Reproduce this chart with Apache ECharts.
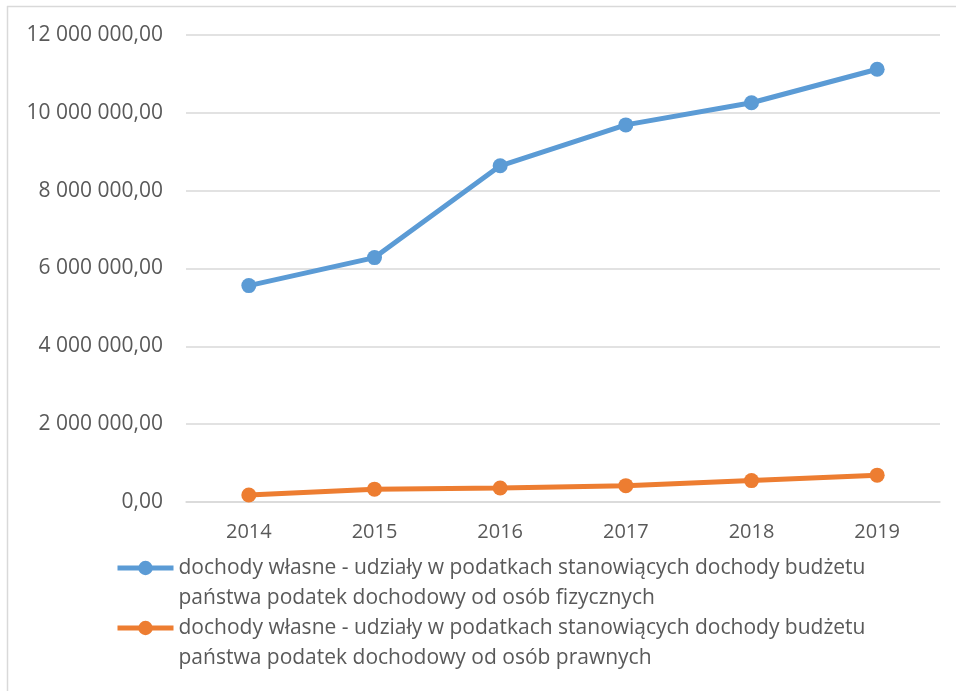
<!DOCTYPE html>
<html>
<head>
<meta charset="utf-8">
<script src="https://cdn.jsdelivr.net/npm/echarts@6/dist/echarts.min.js"></script>
<style>html,body{margin:0;padding:0;background:#fff}#c{width:956px;height:691px}</style>
</head>
<body>
<div id="c"></div>
<script>
const years = ['2014', '2015', '2016', '2017', '2018', '2019'];
const seriesNames = [
  'dochody własne - udziały w podatkach stanowiących dochody budżetu\npaństwa podatek dochodowy od osób fizycznych',
  'dochody własne - udziały w podatkach stanowiących dochody budżetu\npaństwa podatek dochodowy od osób prawnych'
];
const pitValues = [5560000, 6280000, 8640000, 9690000, 10260000, 11120000];
const citValues = [180000, 330000, 360000, 420000, 550000, 690000];
const colors = ['#5B9BD5', '#ED7D31'];

function fmt(v) {
  const s = Math.round(v).toString().replace(/\B(?=(\d{3})+(?!\d))/g, ' ');
  return s + ',00';
}

const chart = echarts.init(document.getElementById('c'), null, {renderer: 'canvas'});
const font = 'Open Sans';
const legendText = {fontFamily: font, fontSize: 21, color: '#595959', lineHeight: 30};
function legendFor(i, top) {
  return {
    data: [seriesNames[i]], orient: 'vertical', left: 115, top: top, padding: 0,
    itemWidth: 56, itemHeight: 18, itemGap: 0, textStyle: legendText,
    formatter: name => ' \n' + name,
    lineStyle: {width: 5, color: colors[i]},
    itemStyle: {color: colors[i]}
  };
}
chart.setOption({
  animation: false,
  color: colors,
  textStyle: {fontFamily: font},
  graphic: [
    {type: 'line', shape: {x1: 7.5, y1: 6, x2: 7.5, y2: 691}, style: {stroke: '#D9D9D9', lineWidth: 1.5}},
    {type: 'line', shape: {x1: 7, y1: 6.5, x2: 956, y2: 6.5}, style: {stroke: '#D9D9D9', lineWidth: 1.5}}
  ],
  grid: {left: 186, right: 16, top: 35, bottom: 189, containLabel: false},
  legend: [legendFor(0, 523), legendFor(1, 583)],
  xAxis: {
    type: 'category', data: years, boundaryGap: true,
    axisLine: {show: true, lineStyle: {color: '#D9D9D9', width: 1.5}},
    axisTick: {show: false},
    axisLabel: {fontFamily: font, fontSize: 20, color: '#595959', margin: 20}
  },
  yAxis: {
    type: 'value', min: 0, max: 12000000, interval: 2000000,
    axisLine: {show: false}, axisTick: {show: false},
    splitLine: {lineStyle: {color: '#D9D9D9', width: 1.5}},
    axisLabel: {fontFamily: font, fontSize: 21, color: '#595959', margin: 23, formatter: fmt}
  },
  series: [
    {name: seriesNames[0], type: 'line', data: pitValues, symbol: 'circle', symbolSize: 15,
     lineStyle: {width: 5, color: colors[0]}, itemStyle: {color: colors[0]}},
    {name: seriesNames[1], type: 'line', data: citValues, symbol: 'circle', symbolSize: 15,
     lineStyle: {width: 5, color: colors[1]}, itemStyle: {color: colors[1]}}
  ]
});
</script>
</body>
</html>
